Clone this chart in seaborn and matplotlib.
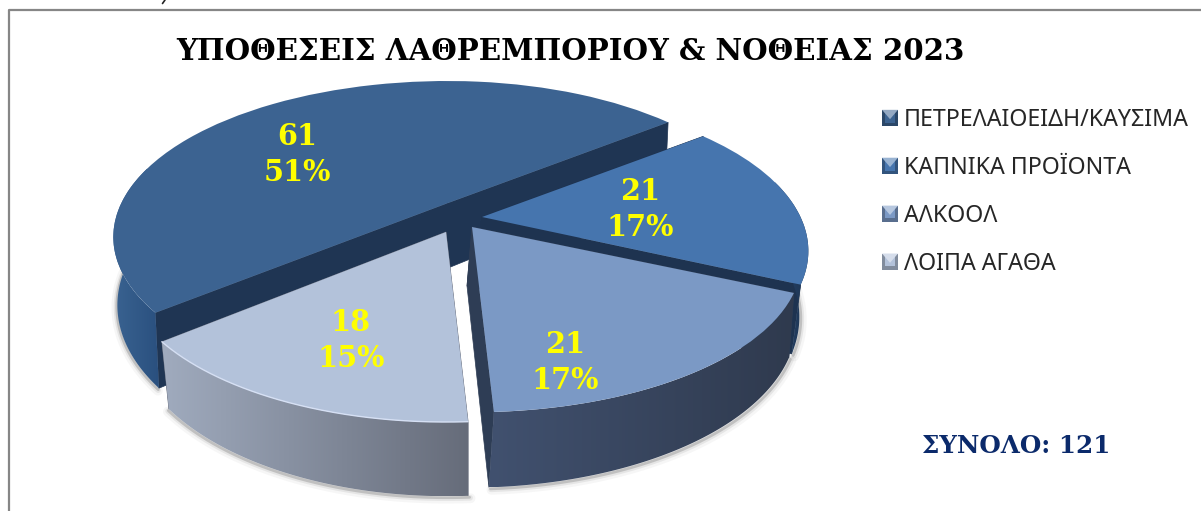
import numpy as np
import matplotlib
matplotlib.use("Agg")
import matplotlib.pyplot as plt
import seaborn as sns
from matplotlib.colors import to_rgb
from matplotlib.legend_handler import HandlerPatch
from matplotlib.patches import Patch, Polygon
from matplotlib.transforms import Transform

# ---- data ----
categories = ["ΠΕΤΡΕΛΑΙΟΕΙΔΗ/ΚΑΥΣΙΜΑ", "ΚΑΠΝΙΚΑ ΠΡΟΪΟΝΤΑ", "ΑΛΚΟΟΛ", "ΛΟΙΠΑ ΑΓΑΘΑ"]
counts = [61, 21, 21, 18]
percent_labels = ["51%", "17%", "17%", "15%"]
title_text = "ΥΠΟΘΕΣΕΙΣ ΛΑΘΡΕΜΠΟΡΙΟΥ & ΝΟΘΕΙΑΣ 2023"
total_text = "ΣΥΝΟΛΟ: 121"

# ---- styling / layout ----
top_colors = ["#3C6391", "#4675AE", "#7B99C5", "#B3C2DA"]
rim_left = ["#3A6391", "#2A4C78", "#41516F", "#A0ABBE"]
rim_right = ["#2A507F", "#1D3350", "#2F3A4E", "#666C7A"]
cut_colors = ["#1F3553", "#1E3350", "#2E3D55", "#5F6676"]
apexes = [(448, 203), (482, 217), (472, 227), (446, 232)]
scale_left = [1.005, 1.0, 1.0, 0.976]
scale_right = [0.975, 0.98, 0.99, 1.0]
scale_front = [1.0, 1.0, 0.975, 1.0]
depths = [65.0, 63.0, 59.0, 58.0]
bottom_shift = [0.0, -9.0, -5.0, 0.0]
taper = [(450, 0.012), (450, 0.0), (450, 0.0), (468, 0.023)]
label_xy = [(297, 154.5), (640, 209.5), (565, 362.5), (351, 340.5)]
A, B, K = 325.0, 148.6, 0.218
W, H = 1201, 511

sns.set_theme(style="white")
palette = sns.color_palette(top_colors)
fig = plt.figure(figsize=(W / 100, H / 100), dpi=100)
ax = fig.add_axes([0, 0, 1, 1])


def project(u, v, i, z=0.0):
    u, v = np.asarray(u, float), np.asarray(v, float)
    w = 1 + K * v
    sx = np.where(u > 0, scale_right[i], scale_left[i])
    sy = np.where(v < 0, scale_front[i], 1.0)
    x = apexes[i][0] + A * sx * u / w
    y = apexes[i][1] - B * sy * v / w
    if z:
        cx, tp = taper[i]
        x = x + (cx - x) * tp * z + bottom_shift[i] * z
        y = y + depths[i] * z / w
    return x, y


class Perspective(Transform):
    input_dims = output_dims = 2
    is_affine = False

    def __init__(self, index):
        super().__init__()
        self.index = index

    def transform_non_affine(self, values):
        x, y = project(values[:, 0], values[:, 1], self.index)
        return np.column_stack([x, y])


wedges, _ = ax.pie(counts, colors=palette, startangle=219.5, counterclock=False,
                   radius=1.0, wedgeprops=dict(linewidth=0))

for i, wedge in enumerate(wedges):
    z_base = 2 + i * 2
    t = np.radians(np.linspace(wedge.theta1, wedge.theta2, 400))
    u, v = np.cos(t), np.sin(t)
    xt, yt = project(u, v, i)
    xb, yb = project(u, v, i, 1.0)

    # soft shadow below the rim
    front = v < 0.25
    sign = np.where(u[front] > 0, 1.0, -0.4)
    for lw, alpha, off in [(7, 0.05, 2.5), (4, 0.10, 2), (2, 0.25, 1.5)]:
        ax.plot(xb[front] + off * sign, yb[front] + off, color="#555555", lw=lw, alpha=alpha,
                zorder=z_base, solid_capstyle="round")

    # two cut faces
    for tt in (t[0], t[-1]):
        cu, cv = np.array([0, np.cos(tt)]), np.array([0, np.sin(tt)])
        x0, y0 = project(cu, cv, i)
        x1, y1 = project(cu, cv, i, 1.0)
        ax.add_patch(Polygon(np.column_stack([np.r_[x0, x1[::-1]], np.r_[y0, y1[::-1]]]),
                             closed=True, fc=cut_colors[i], ec=cut_colors[i], lw=0.5,
                             zorder=z_base + 0.2))

    # shaded rim: a horizontal gradient clipped to the rim outline
    vis = v < 0.25
    px = np.r_[xt[vis], xb[vis][::-1]]
    py = np.r_[yt[vis], yb[vis][::-1]]
    clip = Polygon(np.column_stack([px, py]), closed=True, transform=ax.transData,
                   fc="none", ec="none")
    ax.add_patch(clip)
    c0, c1 = np.array(to_rgb(rim_left[i])), np.array(to_rgb(rim_right[i]))
    ramp = (c0 + (c1 - c0) * np.linspace(0, 1, 256)[:, None])[None, :, :]
    im = ax.imshow(ramp, extent=(px.min(), px.max(), py.max(), py.min()), aspect="auto",
                   interpolation="bilinear", zorder=z_base + 0.4)
    im.set_clip_path(clip)

    # top face from the pie wedge
    wedge.set_transform(Perspective(i) + ax.transData)
    wedge.set_zorder(z_base + 0.6)

    # thin highlight along the light wedge's front edge
    if i == 3:
        ax.plot(xt[vis], yt[vis], color="#D6E0F4", lw=1.0, zorder=z_base + 0.7)

    ax.text(label_xy[i][0], label_xy[i][1], f"{counts[i]}\n{percent_labels[i]}", color="#FFFF00",
            fontsize=20.7, fontweight="bold", family="DejaVu Serif", ha="center", va="center",
            linespacing=1.28, zorder=20)

ax.set_aspect("auto")
ax.set_xlim(0, W)
ax.set_ylim(H, 0)
ax.axis("off")

# chart-area border: only the top and left edges fall inside the picture
ax.plot([8.5, 8.5, W + 5], [H + 5, 10.5, 10.5], color="#868686", lw=1.6, zorder=1)
# tail of a character from the text above the chart
ax.plot([165, 162.5], [0, 3.5], color="#222222", lw=1.2, zorder=1)

ax.text(570.5, 51, title_text, fontsize=21.05, fontweight="bold", family="DejaVu Serif",
        color="black", ha="center", va="center", zorder=20)
ax.text(1016, 446, total_text, fontsize=17.7, fontweight="bold", family="DejaVu Serif",
        color="#0B2A6B", ha="center", va="center", zorder=20)


class BevelHandler(HandlerPatch):
    def create_artists(self, legend, orig, xd, yd, width, height, fontsize, trans):
        base = np.array(to_rgb(orig.get_facecolor()[:3]))
        dark = tuple(base * 0.72)
        light = tuple(np.minimum(base * 0.55 + 0.45, 1))
        x0, y0 = -xd, -yd
        sq = Polygon([(x0, y0), (x0 + width, y0), (x0 + width, y0 + height), (x0, y0 + height)],
                     closed=True, fc=dark, ec="none", transform=trans)
        mid = Polygon([(x0 + width * .2, y0 + height * .2), (x0 + width * .8, y0 + height * .2),
                       (x0 + width * .8, y0 + height * .8), (x0 + width * .2, y0 + height * .8)],
                      closed=True, fc=tuple(base), ec="none", transform=trans)
        tri = Polygon([(x0, y0 + height), (x0 + width, y0 + height), (x0 + width / 2, y0 + height * .42)],
                      closed=True, fc=light, ec="none", transform=trans)
        return [sq, mid, tri]


handles = [Patch(facecolor=c, label=n) for c, n in zip(top_colors, categories)]
ax.legend(handles=handles, loc="upper left", bbox_to_anchor=(882 / W, 1 - 108 / H), frameon=False,
          prop=dict(family="Noto Sans", size=16.7), handlelength=0.69, handleheight=0.69,
          handletextpad=0.26, labelspacing=1.03, borderpad=0, borderaxespad=0,
          handler_map={Patch: BevelHandler()})

fig.savefig("out.png", dpi=100, facecolor="white")
